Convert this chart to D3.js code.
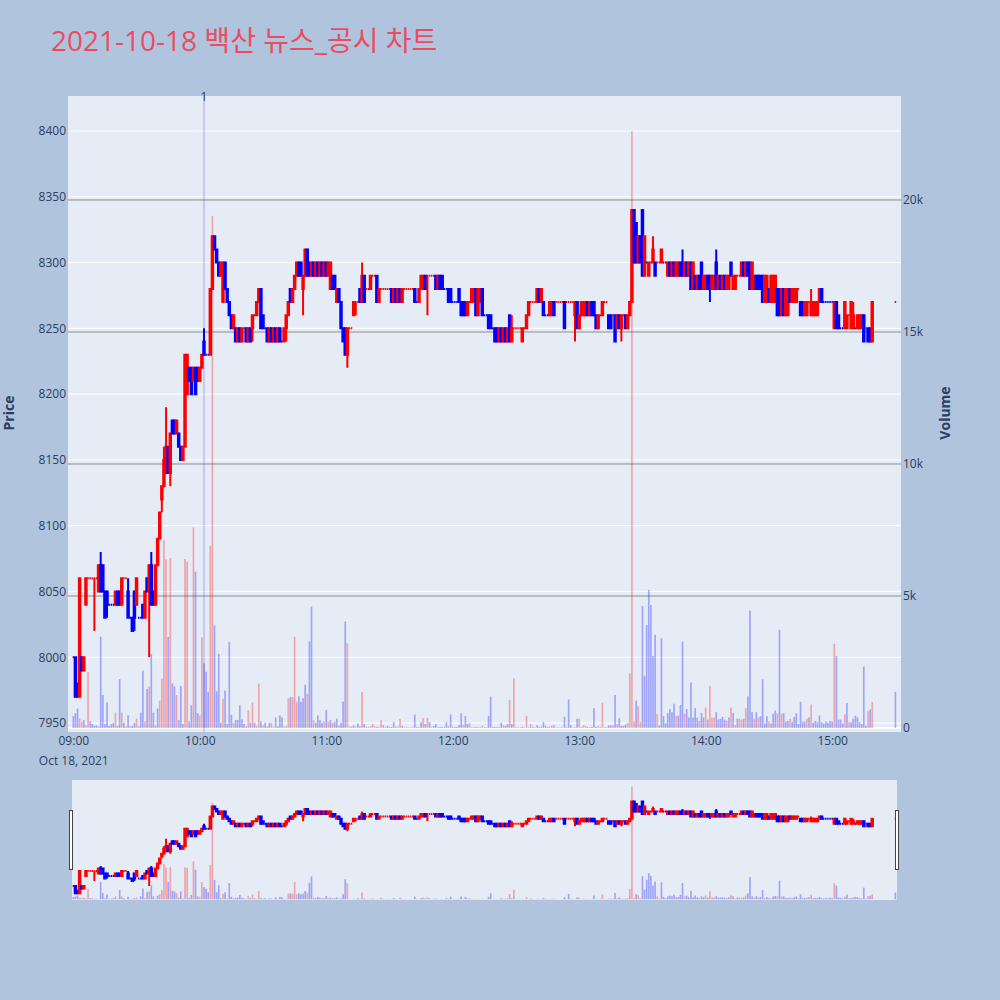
<!DOCTYPE html>
<html>
<head>
<meta charset="utf-8">
<script src="https://cdn.jsdelivr.net/npm/d3@7"></script>
<style>
  body { margin: 0; background: #b0c4de; }
  svg text { font-family: 'Open Sans', 'Noto Sans CJK KR', sans-serif; }
</style>
</head>
<body>
<svg id="chart" width="1000" height="1000"></svg>
<script>
// ---- session ----
const tradeDate = '2021-10-18';
const chartTitle = '2021-10-18 백산 뉴스_공시 차트';
const sessionOpen = '09:00';
const continuousMinutes = 380;      // one bar per minute, 09:00 – 15:19
const closingAuction = '15:30';     // single closing-auction print
const newsTimes = ['10:02'];
const newsLabels = ['1'];

// ---- one-minute candles (KRW) ----
const openPrice = [
  8000,8000,7980,7970,8000,7990,8040,8060,8060,8060,
  8060,8060,8050,8070,8070,8050,8050,8040,8040,8040,
  8040,8050,8050,8040,8060,8060,8050,8030,8030,8050,
  8040,8030,8030,8040,8030,8060,8050,8070,8050,8040,
  8070,8090,8120,8130,8140,8160,8140,8180,8180,8170,
  8170,8160,8150,8160,8200,8220,8220,8210,8220,8220,
  8210,8220,8240,8230,8230,8230,8280,8320,8310,8300,
  8290,8270,8300,8280,8270,8260,8250,8250,8240,8250,
  8240,8250,8250,8240,8250,8250,8260,8260,8270,8280,
  8260,8250,8250,8240,8250,8240,8250,8240,8250,8240,
  8240,8250,8260,8280,8270,8280,8290,8300,8300,8280,
  8290,8310,8300,8290,8300,8290,8300,8290,8300,8290,
  8300,8290,8280,8290,8290,8270,8280,8270,8250,8250,
  8230,8250,8250,8260,8270,8270,8280,8270,8290,8280,
  8280,8280,8290,8290,8290,8270,8280,8280,8280,8280,
  8280,8280,8270,8280,8270,8280,8270,8280,8280,8280,
  8280,8280,8280,8270,8270,8280,8280,8290,8290,8290,
  8290,8290,8290,8280,8290,8290,8280,8280,8280,8280,
  8270,8270,8270,8280,8270,8270,8270,8260,8270,8270,
  8270,8280,8260,8270,8280,8260,8260,8260,8260,8250,
  8250,8250,8240,8250,8240,8250,8240,8260,8240,8250,
  8250,8250,8250,8240,8250,8250,8260,8270,8270,8270,
  8270,8280,8270,8270,8260,8260,8260,8260,8270,8270,
  8270,8270,8270,8270,8270,8270,8270,8270,8260,8270,
  8250,8260,8260,8260,8270,8260,8270,8270,8260,8250,
  8260,8260,8270,8270,8260,8260,8260,8260,8250,8260,
  8250,8260,8260,8250,8260,8270,8340,8330,8300,8320,
  8340,8290,8300,8290,8300,8300,8300,8300,8300,8300,
  8300,8300,8290,8300,8290,8300,8290,8290,8300,8300,
  8290,8300,8290,8300,8280,8290,8280,8290,8300,8280,
  8280,8290,8290,8280,8280,8300,8280,8290,8280,8290,
  8280,8280,8300,8280,8280,8290,8290,8290,8300,8290,
  8300,8300,8280,8280,8290,8290,8290,8290,8270,8270,
  8280,8270,8270,8270,8280,8280,8260,8280,8260,8260,
  8280,8270,8270,8270,8280,8270,8270,8260,8260,8270,
  8260,8260,8260,8260,8270,8280,8270,8270,8270,8270,
  8270,8250,8270,8260,8250,8250,8250,8250,8260,8250,
  8250,8250,8250,8250,8250,8260,8250,8250,8250,8240,
  8270
];
const highPrice = [
  8000,8000,7980,8060,8000,8000,8060,8060,8060,8060,
  8060,8060,8070,8080,8070,8050,8050,8040,8040,8040,
  8050,8050,8050,8060,8060,8060,8060,8030,8030,8050,
  8060,8030,8030,8040,8050,8060,8070,8080,8050,8070,
  8090,8110,8130,8160,8190,8160,8170,8180,8180,8180,
  8170,8160,8160,8230,8230,8220,8220,8220,8220,8220,
  8220,8230,8250,8230,8230,8280,8320,8320,8310,8300,
  8300,8300,8300,8280,8270,8260,8260,8250,8250,8250,
  8250,8250,8250,8250,8250,8260,8260,8270,8280,8280,
  8260,8250,8250,8250,8250,8250,8250,8250,8250,8240,
  8250,8260,8270,8280,8280,8290,8300,8300,8300,8290,
  8310,8310,8300,8300,8300,8300,8300,8300,8300,8300,
  8300,8300,8300,8290,8290,8280,8280,8270,8250,8250,
  8250,8250,8250,8270,8270,8270,8280,8300,8290,8280,
  8280,8290,8290,8290,8290,8280,8280,8280,8280,8280,
  8280,8280,8280,8280,8280,8280,8280,8280,8280,8280,
  8280,8280,8280,8270,8280,8290,8290,8290,8290,8290,
  8290,8290,8290,8290,8290,8290,8280,8280,8280,8280,
  8270,8270,8270,8280,8270,8270,8270,8270,8270,8280,
  8280,8280,8280,8280,8280,8260,8260,8260,8260,8250,
  8250,8250,8250,8250,8250,8250,8250,8260,8260,8250,
  8250,8250,8250,8250,8250,8260,8270,8270,8270,8270,
  8280,8280,8280,8270,8260,8260,8270,8270,8270,8270,
  8270,8270,8270,8270,8270,8270,8270,8270,8270,8270,
  8260,8270,8270,8270,8270,8270,8270,8270,8260,8260,
  8260,8270,8270,8270,8260,8260,8260,8260,8260,8260,
  8260,8260,8260,8260,8270,8340,8340,8330,8320,8320,
  8340,8320,8300,8300,8300,8320,8300,8300,8300,8310,
  8300,8300,8300,8300,8300,8300,8300,8300,8300,8310,
  8300,8300,8300,8300,8300,8290,8290,8290,8300,8290,
  8290,8290,8290,8290,8290,8310,8290,8290,8290,8290,
  8290,8290,8300,8290,8290,8290,8290,8300,8300,8300,
  8300,8300,8300,8290,8290,8290,8290,8290,8290,8290,
  8280,8290,8290,8290,8280,8280,8280,8280,8280,8280,
  8280,8280,8280,8280,8280,8270,8270,8270,8270,8270,
  8280,8270,8270,8270,8280,8280,8270,8270,8270,8270,
  8270,8270,8270,8260,8250,8250,8270,8260,8260,8270,
  8270,8250,8260,8260,8260,8260,8250,8250,8250,8270,
  8270
];
const lowPrice = [
  8000,7970,7970,7970,7990,7990,8040,8060,8060,8060,
  8020,8060,8050,8050,8050,8030,8030,8040,8040,8040,
  8040,8040,8040,8040,8060,8060,8030,8030,8020,8020,
  8040,8030,8030,8030,8030,8050,8000,8040,8040,8040,
  8070,8090,8110,8130,8140,8140,8130,8170,8170,8170,
  8160,8150,8150,8160,8200,8210,8200,8210,8200,8210,
  8210,8220,8230,8230,8230,8230,8280,8310,8300,8290,
  8290,8270,8280,8270,8260,8250,8250,8240,8240,8240,
  8240,8250,8240,8240,8240,8240,8260,8260,8270,8250,
  8250,8250,8240,8240,8240,8240,8240,8240,8240,8240,
  8240,8240,8260,8270,8270,8280,8290,8290,8290,8260,
  8290,8290,8290,8290,8290,8290,8290,8290,8290,8290,
  8290,8290,8280,8280,8280,8270,8270,8250,8240,8230,
  8220,8250,8250,8260,8260,8270,8270,8270,8270,8280,
  8280,8280,8290,8290,8270,8270,8280,8280,8280,8280,
  8280,8270,8270,8270,8270,8270,8270,8280,8280,8280,
  8280,8280,8270,8270,8270,8280,8280,8280,8260,8290,
  8290,8290,8280,8280,8280,8280,8280,8280,8270,8270,
  8270,8270,8270,8270,8260,8260,8260,8260,8270,8270,
  8270,8260,8260,8270,8260,8260,8260,8250,8250,8250,
  8240,8240,8240,8240,8240,8240,8240,8240,8240,8250,
  8250,8250,8250,8240,8250,8250,8260,8270,8270,8270,
  8270,8270,8270,8260,8260,8260,8260,8260,8260,8270,
  8270,8270,8270,8250,8270,8270,8270,8270,8240,8250,
  8250,8260,8260,8260,8260,8260,8260,8260,8250,8250,
  8260,8260,8270,8270,8250,8250,8260,8240,8250,8250,
  8240,8260,8250,8250,8260,8270,8300,8300,8300,8300,
  8290,8290,8300,8290,8300,8300,8290,8300,8300,8300,
  8300,8300,8290,8290,8290,8290,8290,8290,8290,8290,
  8290,8290,8290,8280,8280,8280,8280,8280,8280,8280,
  8280,8280,8270,8280,8280,8280,8280,8280,8280,8280,
  8280,8280,8290,8280,8280,8290,8290,8290,8290,8290,
  8290,8280,8280,8280,8280,8280,8280,8270,8270,8270,
  8270,8270,8270,8270,8260,8260,8260,8260,8260,8260,
  8270,8270,8270,8270,8280,8260,8260,8260,8260,8270,
  8260,8260,8260,8260,8270,8270,8270,8270,8270,8270,
  8270,8250,8250,8250,8250,8250,8250,8250,8260,8250,
  8250,8250,8250,8250,8250,8240,8250,8240,8240,8240,
  8270
];
const closePrice = [
  8000,7970,7970,8060,7990,8000,8060,8060,8060,8060,
  8060,8060,8070,8050,8050,8030,8040,8040,8040,8040,
  8050,8040,8040,8060,8060,8060,8030,8030,8020,8030,
  8060,8030,8030,8030,8050,8050,8070,8040,8040,8070,
  8090,8110,8130,8150,8160,8140,8170,8170,8170,8180,
  8160,8150,8160,8230,8230,8210,8200,8220,8200,8210,
  8220,8230,8230,8230,8230,8280,8320,8310,8300,8290,
  8300,8300,8280,8270,8260,8250,8260,8240,8250,8240,
  8250,8250,8240,8250,8240,8260,8260,8270,8280,8250,
  8250,8250,8240,8250,8240,8250,8240,8250,8240,8240,
  8250,8260,8270,8270,8280,8290,8300,8290,8290,8290,
  8310,8290,8290,8300,8290,8300,8290,8300,8290,8300,
  8290,8300,8300,8280,8280,8280,8270,8250,8240,8230,
  8250,8250,8250,8270,8270,8270,8270,8290,8270,8280,
  8280,8290,8290,8290,8270,8280,8280,8280,8280,8280,
  8280,8270,8280,8270,8280,8270,8280,8280,8280,8280,
  8280,8280,8270,8270,8280,8290,8290,8280,8290,8290,
  8290,8290,8280,8290,8280,8280,8280,8280,8270,8270,
  8270,8270,8270,8270,8260,8260,8260,8270,8270,8280,
  8280,8260,8280,8280,8260,8260,8260,8250,8250,8250,
  8240,8240,8250,8240,8250,8240,8250,8240,8250,8250,
  8250,8250,8250,8250,8250,8260,8270,8270,8270,8270,
  8280,8270,8280,8260,8260,8260,8270,8270,8260,8270,
  8270,8270,8270,8250,8270,8270,8270,8270,8270,8250,
  8260,8270,8270,8270,8260,8270,8260,8260,8250,8260,
  8260,8270,8270,8270,8250,8250,8260,8240,8260,8250,
  8260,8260,8250,8260,8270,8340,8300,8300,8320,8300,
  8290,8320,8300,8300,8300,8310,8290,8300,8300,8310,
  8300,8300,8300,8290,8300,8290,8300,8300,8290,8290,
  8300,8290,8300,8280,8300,8280,8290,8280,8280,8290,
  8290,8280,8280,8290,8290,8280,8290,8280,8290,8280,
  8290,8290,8290,8290,8290,8290,8290,8300,8290,8300,
  8290,8280,8300,8290,8280,8280,8280,8270,8290,8290,
  8270,8290,8290,8290,8260,8260,8280,8260,8280,8280,
  8270,8280,8280,8280,8280,8260,8260,8270,8270,8270,
  8270,8270,8270,8270,8280,8270,8270,8270,8270,8270,
  8270,8270,8250,8250,8250,8250,8270,8260,8260,8270,
  8260,8250,8260,8260,8260,8240,8250,8240,8240,8270,
  8270
];

// ---- traded volume per bar (shares) and its colour side (1 = red, 0 = blue) ----
const volume = [
  460,560,740,360,230,300,100,2120,250,150,
  80,100,60,3460,1250,150,970,80,150,200,
  580,80,1850,580,200,60,480,60,80,200,
  360,60,580,2170,250,1480,1570,2800,580,100,
  740,1040,1870,7120,6390,3450,6440,1690,1570,1250,
  300,1590,150,6400,6300,250,860,7600,5920,560,
  480,3430,2450,2130,1370,6900,19400,3890,1390,2810,
  200,1110,1420,150,3260,500,200,300,300,860,
  330,150,60,680,200,960,200,80,1680,250,
  100,200,60,200,200,50,400,60,480,400,
  60,80,1120,1170,1170,3460,990,1200,990,1130,
  1640,1300,3280,4600,300,200,480,300,200,250,
  680,230,300,200,230,360,100,200,1000,4030,
  3210,60,50,100,60,180,60,1370,150,50,
  40,60,150,60,50,40,300,100,40,80,
  40,40,230,60,50,340,80,40,40,30,
  30,40,510,40,40,220,380,150,380,220,
  40,80,150,40,40,40,40,230,60,510,
  40,40,40,100,560,120,460,150,200,40,
  40,40,40,40,80,30,30,460,1190,40,
  40,40,40,200,100,80,150,1060,150,1880,
  40,30,30,50,30,460,40,150,50,30,
  100,40,50,230,80,40,50,80,100,30,
  30,30,30,430,40,1080,100,30,40,350,
  350,40,100,80,40,40,40,750,40,80,
  40,960,40,40,100,100,100,1250,150,370,
  80,80,130,200,2070,22600,240,1040,820,220,
  4620,1970,3900,5230,4660,2730,3530,530,100,3400,
  450,180,570,720,600,920,450,470,870,3270,
  550,720,400,1730,400,750,400,270,570,400,
  770,320,1600,380,400,600,320,350,420,320,
  270,400,770,570,110,350,350,320,350,750,
  1200,4450,600,350,600,400,450,1850,170,450,
  250,170,540,660,560,3720,540,560,240,270,
  350,240,420,560,150,990,240,240,350,400,
  890,200,270,220,470,220,170,250,200,270,
  240,3190,2730,320,320,170,520,950,220,220,
  350,470,400,220,150,2330,80,640,700,990,
  1370
];
const volumeUp = [
  0,0,0,1,1,0,1,1,0,0, 0,0,1,0,0,0,0,0,0,0,
  1,0,0,1,0,1,0,0,0,0, 1,0,0,0,1,0,1,0,0,1,
  0,1,1,1,1,0,1,0,0,1, 0,0,0,1,1,0,0,1,0,0,
  1,1,0,0,0,1,1,0,0,0, 0,1,0,0,0,0,1,0,0,0,
  0,0,0,1,0,1,0,1,1,0, 1,0,0,0,1,1,0,0,0,0,
  1,1,1,0,1,1,1,0,0,0, 0,1,0,0,1,0,0,0,0,1,
  0,1,0,1,0,0,1,0,0,0, 1,1,0,0,1,0,0,1,0,1,
  1,1,1,1,0,1,1,0,1,0, 0,0,0,1,1,1,0,1,1,1,
  1,1,0,0,1,0,1,0,1,0, 1,0,0,1,0,0,0,0,0,0,
  0,0,0,0,0,1,0,0,1,1, 1,0,1,1,1,0,0,0,0,0,
  0,0,1,0,1,0,0,1,0,1, 1,1,1,0,1,1,1,1,0,1,
  0,0,0,0,0,0,1,1,0,1, 1,1,1,0,1,0,0,1,1,0,
  1,1,1,1,0,1,0,0,0,1, 1,1,1,1,0,0,1,0,1,0,
  0,0,0,1,1,1,1,0,1,1, 0,0,0,0,0,0,0,1,0,0,
  0,0,0,0,0,0,1,0,0,0, 1,0,0,0,0,0,0,1,0,0,
  1,0,1,1,1,0,0,0,0,0, 1,0,1,0,1,0,1,1,0,1,
  0,0,0,1,0,1,0,0,0,0, 1,0,0,0,1,0,1,0,0,0,
  1,0,0,0,0,0,0,0,1,0, 1,0,0,0,0,0,0,0,0,0,
  0,1,0,0,0,0,1,0,1,0, 0,0,0,0,0,0,0,1,0,1,
  0
];

// ---- axis ticks ----
const priceTicks = [7950, 8000, 8050, 8100, 8150, 8200, 8250, 8300, 8350, 8400];
const volumeTicks = [0, 5000, 10000, 15000, 20000];
const hourTicks = ['09:00', '10:00', '11:00', '12:00', '13:00', '14:00', '15:00'];

// ---- colours ----
const UP = '#ff0000', DOWN = '#0000ff';

// ---- build bar records ----
const parseTime = d3.timeParse('%Y-%m-%d %H:%M');
const at = hm => parseTime(`${tradeDate} ${hm}`);
const t0 = at(sessionOpen);
const times = d3.range(continuousMinutes).map(i => d3.timeMinute.offset(t0, i)).concat([at(closingAuction)]);

let prevClose = null, prevUp = true;
const bars = times.map((t, i) => {
  const o = openPrice[i], c = closePrice[i];
  let up;
  if (c > o) up = true;
  else if (c < o) up = false;
  else if (prevClose !== null && c !== prevClose) up = c > prevClose;
  else up = prevUp;
  prevUp = up; prevClose = c;
  return { t, o, h: highPrice[i], l: lowPrice[i], c, v: volume[i], vUp: volumeUp[i] === 1, up };
});

// ---- layout ----
const frame = { bgLeft: 68, bgRight: 901, top: 96, bottom: 732 };
const slider = { left: 72, right: 897, top: 780, bottom: 900 };
const minute = 60000;
const x = d3.scaleTime()
  .domain([new Date(+t0 - 2.514 * minute), new Date(+t0 + 392.65 * minute)])
  .range([frame.bgLeft, frame.bgRight]);
const priceDomain = [7943.2, 8426.6];
const volumeDomain = [-151.5, 23939];
const yPrice = d3.scaleLinear().domain(priceDomain).range([frame.bottom, frame.top]);
const yVol = d3.scaleLinear().domain(volumeDomain).range([frame.bottom, frame.top]);
const ysPrice = d3.scaleLinear().domain(priceDomain).range([slider.bottom, slider.top]);
const ysVol = d3.scaleLinear().domain(volumeDomain).range([slider.bottom, slider.top]);

const pxPerMin = x(d3.timeMinute.offset(t0, 1)) - x(t0);
const boxHalf = pxPerMin * 0.35;
const barW = pxPerMin * 0.8;

const svg = d3.select('#chart');

// title
svg.append('text').attr('x', 51).attr('y', 51)
  .attr('font-size', 28).attr('fill', '#ec4c62').text(chartTitle);

// plot background
svg.append('rect').attr('x', frame.bgLeft).attr('y', frame.top)
  .attr('width', frame.bgRight - frame.bgLeft).attr('height', frame.bottom - frame.top)
  .attr('fill', '#e5ecf6');

const clipId = 'plotclip';
svg.append('clipPath').attr('id', clipId).append('rect')
  .attr('x', frame.bgLeft).attr('y', frame.top)
  .attr('width', frame.bgRight - frame.bgLeft).attr('height', frame.bottom - frame.top);

// price grid (white)
svg.append('g').selectAll('line').data(priceTicks).join('line')
  .attr('x1', frame.bgLeft).attr('x2', frame.bgRight)
  .attr('y1', d => yPrice(d)).attr('y2', d => yPrice(d))
  .attr('stroke', '#ffffff').attr('stroke-width', 1);

// volume zero line and grid (grey)
svg.append('line').attr('x1', frame.bgLeft).attr('x2', frame.bgRight)
  .attr('y1', yVol(0)).attr('y2', yVol(0)).attr('stroke', '#ffffff').attr('stroke-width', 2);
svg.append('g').selectAll('line').data(volumeTicks.filter(v => v > 0)).join('line')
  .attr('x1', frame.bgLeft).attr('x2', frame.bgRight)
  .attr('y1', d => yVol(d)).attr('y2', d => yVol(d))
  .attr('stroke', '#8c8c8c').attr('stroke-width', 1);

function candlePath(d, sx, sy, half) {
  const cx = sx(d.t);
  const yo = sy(d.o), yc = sy(d.c);
  const top = Math.min(yo, yc), bot = Math.max(yo, yc);
  return `M${cx - half},${top}H${cx + half}V${bot}H${cx - half}Z` +
         `M${cx},${top}V${sy(d.h)}M${cx},${bot}V${sy(d.l)}`;
}

function drawCandles(g, sy, half, sw) {
  g.selectAll('path').data(bars).join('path')
    .attr('d', d => candlePath(d, x, sy, half))
    .attr('fill', d => d.up ? UP : DOWN)
    .attr('stroke', d => d.up ? UP : DOWN)
    .attr('stroke-width', sw);
}
function drawVolume(g, sy, w) {
  g.selectAll('rect').data(bars).join('rect')
    .attr('x', d => x(d.t) - w / 2)
    .attr('width', w)
    .attr('y', d => sy(d.v))
    .attr('height', d => sy(0) - sy(d.v))
    .attr('fill', d => d.vUp ? UP : DOWN)
    .attr('fill-opacity', 0.3);
}

const plotG = svg.append('g').attr('clip-path', `url(#${clipId})`);
drawCandles(plotG.append('g'), yPrice, boxHalf, 2);
drawVolume(plotG.append('g'), yVol, barW);

// news marker
const news = newsTimes.map((t, i) => ({ t: at(t), label: newsLabels[i] }));
svg.append('g').selectAll('line').data(news).join('line')
  .attr('x1', d => x(d.t)).attr('x2', d => x(d.t))
  .attr('y1', frame.top).attr('y2', frame.bottom)
  .attr('stroke', DOWN).attr('stroke-opacity', 0.3).attr('stroke-width', 1);
svg.append('g').selectAll('text').data(news).join('text')
  .attr('x', d => x(d.t)).attr('y', frame.top + 5)
  .attr('text-anchor', 'middle').attr('font-size', 12).attr('fill', '#2a3f5f')
  .text(d => d.label);

// axes
const axisText = sel => sel.selectAll('text').attr('fill', '#2a3f5f').attr('font-size', 12)
  .attr('font-family', "'Open Sans', sans-serif");

const leftAxis = svg.append('g').attr('transform', `translate(${frame.bgLeft - 2},0)`)
  .call(d3.axisLeft(yPrice).tickValues(priceTicks).tickSize(0).tickPadding(0).tickFormat(d3.format('d')));
leftAxis.select('.domain').remove();
axisText(leftAxis);

const rightAxis = svg.append('g').attr('transform', `translate(${frame.bgRight + 2},0)`)
  .call(d3.axisRight(yVol).tickValues(volumeTicks).tickSize(0).tickPadding(0).tickFormat(d3.format('~s')));
rightAxis.select('.domain').remove();
axisText(rightAxis);

const fmtHM = d3.timeFormat('%H:%M');
const fmtDay = d3.timeFormat('%b %d, %Y');
const bottomAxis = svg.append('g').attr('transform', `translate(0,${frame.bottom + 4})`)
  .call(d3.axisBottom(x).tickValues(hourTicks.map(at)).tickSize(0).tickPadding(0).tickFormat(fmtHM));
bottomAxis.select('.domain').remove();
axisText(bottomAxis);
bottomAxis.selectAll('text').attr('dy', '0.71em');
bottomAxis.selectAll('.tick').filter((d, i) => i === 0).append('text')
  .attr('y', 20).attr('dy', '0.71em').attr('text-anchor', 'middle')
  .attr('fill', '#2a3f5f').attr('font-size', 12).text(fmtDay(at(hourTicks[0])));

// axis titles
svg.append('text').attr('transform', `translate(14,${(frame.top + frame.bottom) / 2 - 1}) rotate(-90)`)
  .attr('text-anchor', 'middle').attr('font-size', 14).attr('font-weight', 'bold')
  .attr('fill', '#2a3f5f').text('Price');
svg.append('text').attr('transform', `translate(950,${(frame.top + frame.bottom) / 2 - 1}) rotate(-90)`)
  .attr('text-anchor', 'middle').attr('font-size', 14).attr('font-weight', 'bold')
  .attr('fill', '#2a3f5f').text('Volume');

// range slider
svg.append('rect').attr('x', slider.left).attr('y', slider.top)
  .attr('width', slider.right - slider.left).attr('height', slider.bottom - slider.top)
  .attr('fill', '#e5ecf6');
svg.append('clipPath').attr('id', 'sliderclip').append('rect')
  .attr('x', slider.left).attr('y', slider.top)
  .attr('width', slider.right - slider.left).attr('height', slider.bottom - slider.top);
const sliderG = svg.append('g').attr('clip-path', 'url(#sliderclip)');
drawCandles(sliderG.append('g'), ysPrice, boxHalf, 2);
drawVolume(sliderG.append('g'), ysVol, barW);

const grabH = (slider.bottom - slider.top) / 2;
[slider.left - 3, slider.right - 2].forEach(gx => {
  svg.append('rect').attr('x', gx + 0.5).attr('y', slider.top + grabH / 2 + 0.5)
    .attr('width', 3).attr('height', grabH - 1)
    .attr('fill', '#ffffff').attr('stroke', '#444444').attr('stroke-width', 1);
});
</script>
</body>
</html>
